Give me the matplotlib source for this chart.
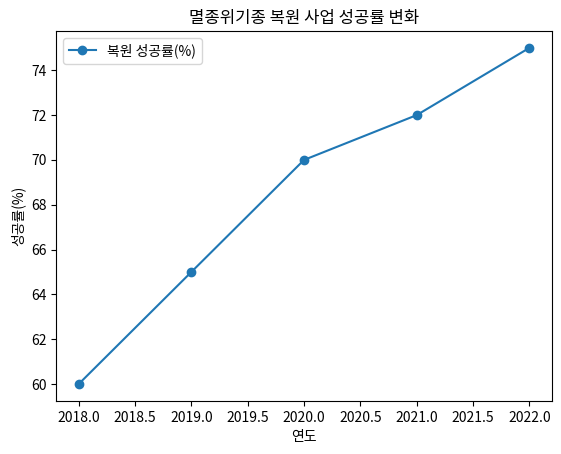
import matplotlib
matplotlib.use("Agg")
import matplotlib.pyplot as plt

plt.rcParams['font.family'] = ['Noto Sans CJK KR', 'DejaVu Sans']

years = [2018, 2019, 2020, 2021, 2022]
success_rate = [60, 65, 70, 72, 75]

fig = plt.figure(figsize=(5.61, 4.54), dpi=100)
ax = fig.add_axes([56/561, 1-401/454, (552-56)/561, (401-31)/454])
ax.plot(years, success_rate, marker='o', color='#1f77b4', label='복원 성공률(%)')
ax.set_title('멸종위기종 복원 사업 성공률 변화')
ax.set_xlabel('연도')
ax.set_ylabel('성공률(%)')
ax.legend(loc='upper left')
fig.savefig('out.png', dpi=100)
